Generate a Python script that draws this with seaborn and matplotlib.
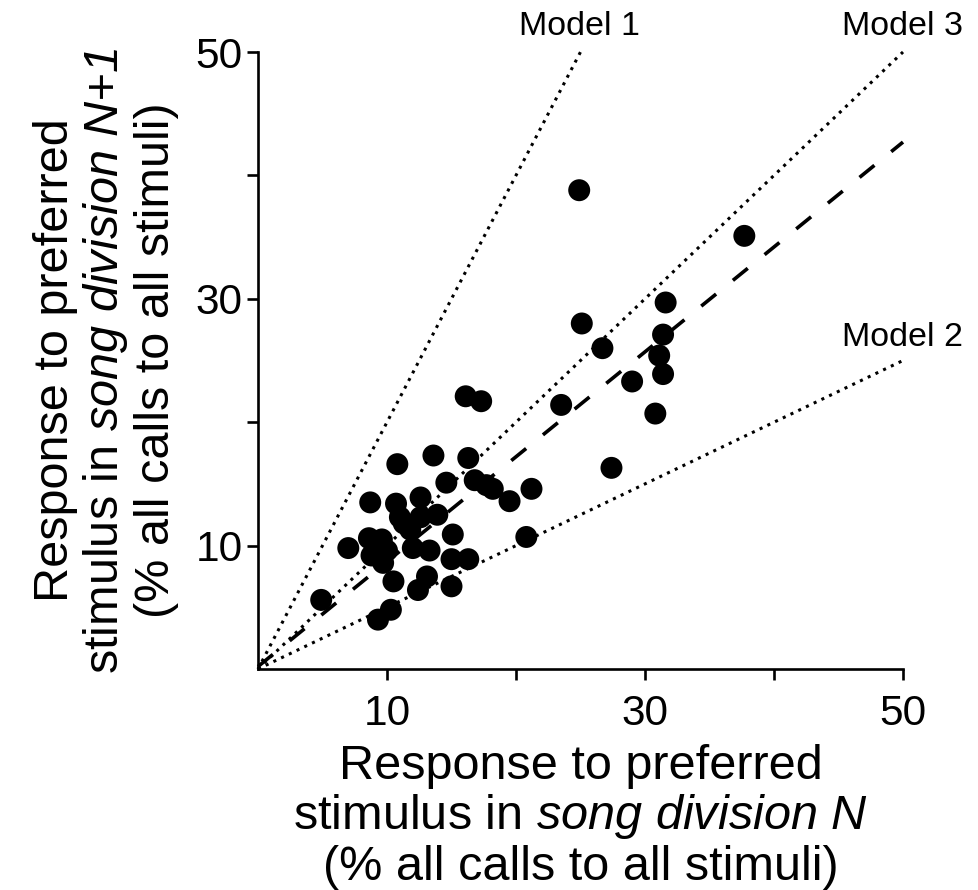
import numpy as np
import pandas as pd
import matplotlib
matplotlib.use("Agg")
import matplotlib.pyplot as plt
import seaborn as sns

# ---- data ----
resp_n = [24.9, 37.7, 31.6, 25.1, 31.4, 26.7, 31.1, 31.4, 29.0, 23.5,
          30.8, 16.1, 17.3, 27.4, 21.2, 10.8, 13.6, 16.3, 14.6, 16.8,
          17.7, 18.2, 19.5, 8.7, 10.7, 12.6, 11.0, 12.6, 13.9, 11.8,
          11.3, 15.1, 20.8, 7.0, 8.6, 9.6, 8.8, 10.0, 9.7, 12.0,
          13.3, 15.0, 16.3, 10.5, 13.1, 12.4, 15.0, 4.9, 10.3, 9.3]
resp_n1 = [38.8, 35.1, 29.7, 28.0, 27.1, 26.0, 25.4, 23.9, 23.3, 21.4,
           20.7, 22.1, 21.7, 16.3, 14.6, 16.6, 17.3, 17.1, 15.1, 15.3,
           14.9, 14.6, 13.6, 13.5, 13.4, 13.9, 12.3, 12.3, 12.5, 11.3,
           11.8, 10.9, 10.7, 9.8, 10.6, 10.5, 9.2, 9.6, 8.6, 9.8,
           9.6, 8.9, 8.9, 7.1, 7.5, 6.4, 6.7, 5.6, 4.8, 4.0]

model_names = ["Model 1", "Model 2", "Model 3"]
model_slopes = [2.0, 0.5, 1.0]
model_label_x = [20.2, 45.3, 45.3]
model_label_y = [51.4, 26.2, 51.4]

fit_slope = 0.85
fit_intercept = 0.2

tick_values = [10, 20, 30, 40, 50]
tick_labels = ["10", "", "30", "", "50"]
axis_max = 50

df = pd.DataFrame({"n": resp_n, "n1": resp_n1})

# ---- style ----
sns.set_style("ticks")
plt.rcParams["font.family"] = ["Liberation Sans", "DejaVu Sans"]
plt.rcParams["mathtext.fontset"] = "custom"
plt.rcParams["mathtext.rm"] = "Liberation Sans:italic"
plt.rcParams["mathtext.it"] = "Liberation Sans:italic"
for key in ["text.color", "axes.labelcolor", "xtick.color", "ytick.color",
            "axes.edgecolor", "xtick.labelcolor", "ytick.labelcolor"]:
    plt.rcParams[key] = "black"

fig = plt.figure(figsize=(9.79, 8.90), dpi=100)
ax = fig.add_axes([258 / 979, 1 - 669 / 890, (903 - 258) / 979, (669 - 52) / 890])

# model lines (dotted)
for slope in model_slopes:
    x_end = min(axis_max, axis_max / slope)
    xs = np.array([0, x_end])
    ax.plot(xs, slope * xs, color="black", lw=2.2, linestyle=(0, (1, 1.8)),
            clip_on=False, zorder=2)

# fitted line (dashed)
xs = np.array([0, axis_max])
ax.plot(xs, fit_slope * xs + fit_intercept, color="black", lw=2.6,
        linestyle=(0, (5.3, 6.0)), clip_on=False, zorder=2)

sns.scatterplot(data=df, x="n", y="n1", ax=ax, color="black", s=250,
                edgecolor="none", linewidth=0, zorder=3, clip_on=False)

for name, lx, ly in zip(model_names, model_label_x, model_label_y):
    ax.text(lx, ly, name, fontsize=24.5, ha="left", va="baseline",
            color="black", clip_on=False)

ax.set_xlim(0, axis_max)
ax.set_ylim(0, axis_max)
ax.set_xticks(tick_values)
ax.set_xticklabels(tick_labels)
ax.set_yticks(tick_values)
ax.set_yticklabels(tick_labels)

sns.despine(ax=ax)
for side in ["left", "bottom"]:
    ax.spines[side].set_linewidth(1.9)
    ax.spines[side].set_color("black")
ax.tick_params(axis="both", which="major", length=8, width=1.9,
               labelsize=30.5, direction="out", color="black",
               labelcolor="black")
ax.tick_params(axis="y", pad=3)
ax.tick_params(axis="x", pad=10)

ax.set_xlabel("Response to preferred\nstimulus in $\\mathrm{song\\ division\\ N}$\n(% all calls to all stimuli)",
              fontsize=35, linespacing=1.1, labelpad=7, color="black")
ax.set_ylabel("Response to preferred\nstimulus in $\\mathrm{song\\ division\\ N{+}1}$\n(% all calls to all stimuli)",
              fontsize=35, linespacing=1.1, labelpad=12, color="black")

fig.savefig("out.png", dpi=100)
